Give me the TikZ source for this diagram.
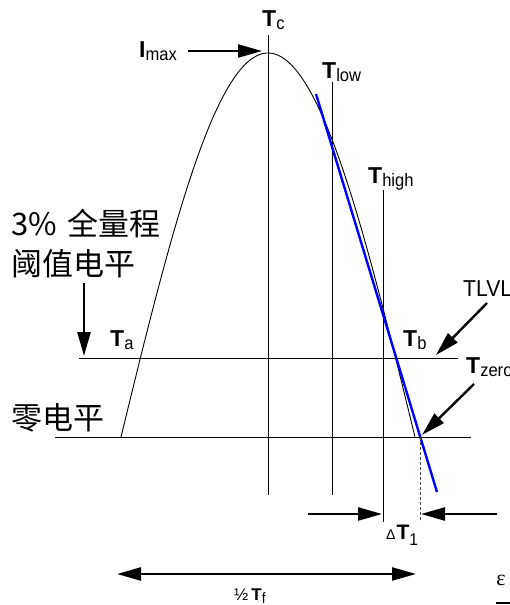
\documentclass[tikz,border=0pt]{standalone}
\usepackage{fontspec}
\setmainfont{Liberation Sans}
\newfontfamily\cjk{Noto Sans CJK SC}
\newfontfamily\narrowsans[FakeStretch=0.92]{Liberation Sans}
\newfontfamily\serifgr{Liberation Serif}
\usetikzlibrary{arrows.meta}
% big label: bold T + condensed subscript
\newcommand{\TT}[2]{{\fontsize{23}{23}\selectfont\bfseries #1}{\narrowsans\fontsize{18}{18}\selectfont\raisebox{-3pt}{#2}}}
% small label
\newcommand{\ST}[2]{{\fontsize{17}{17}\selectfont\bfseries #1}{\narrowsans\fontsize{15}{15}\selectfont\raisebox{-3pt}{#2}}}
\begin{document}
\begin{tikzpicture}[x=1pt,y=-1pt,
  thinline/.style={line width=0.9pt,black},
  bigarrow/.style={line width=2.4pt,-{Triangle[length=24pt,width=13pt]}},
  lab/.style={inner sep=0pt,anchor=base west},
  cjklab/.style={inner sep=0pt,anchor=west,font=\cjk\fontsize{31}{31}\selectfont}]
\useasboundingbox (0,0) rectangle (510,605);
% vertical lines
\coordinate (tcTop) at (268,35);  \coordinate (tcBot) at (268,495);
\coordinate (tlTop) at (332,82);  \coordinate (tlBot) at (332,495);
\coordinate (thTop) at (383,190); \coordinate (thBot) at (383,522);
\draw[thinline] (tcTop) -- (tcBot);
\draw[thinline] (tlTop) -- (tlBot);
\draw[thinline] (thTop) -- (thBot);
% horizontal levels
\coordinate (thrL) at (79,358);  \coordinate (thrR) at (458,358);
\coordinate (zerL) at (55,437);  \coordinate (zerR) at (471,437);
\draw[thinline] (thrL) -- (thrR);
\draw[thinline] (zerL) -- (zerR);
% pulse curve
\draw[thinline] plot[domain=-1:1,samples=120,smooth] ({268+147*\x},{437-384*cos(90*\x)});
% blue tangent
\coordinate (bl1) at (316,94); \coordinate (bl2) at (437,492);
\draw[blue,line width=2.4pt] (bl1) -- (bl2);
% dashed
\coordinate (dz) at (420.3,437); \coordinate (dzB) at (420.3,522);
\draw[line width=0.8pt,black!70,dash pattern=on 3pt off 2pt] (dz) -- (dzB);
% labels
\node[lab] (tc) at (262,26) {\TT{T}{c}};
\node[lab] (imax) at (139,57) {\TT{I}{max}};
\node[lab] (tlow) at (322,78) {\TT{T}{low}};
\node[lab] (thigh) at (368,183) {\TT{T}{high}};
\node[lab] (ta) at (110,346) {\TT{T}{a}};
\node[lab] (tb) at (403,346) {\TT{T}{b}};
\node[lab,font=\narrowsans\fontsize{23}{23}\selectfont] (tlvl) at (463,296) {TLVL};
\node[lab] (tzero) at (466,373) {\TT{T}{zero}};
\node[lab] (dt) at (386,539) {{\fontsize{14}{14}\selectfont Δ\hspace{1pt}}{\fontsize{21}{21}\selectfont\bfseries T}{\narrowsans\fontsize{17}{17}\selectfont\raisebox{-6pt}{1}}};
\node[lab] (tf) at (234,600) {{\fontsize{17}{17}\selectfont ½\hspace{3pt}}\ST{T}{f}};
\node[inner sep=0pt,font=\serifgr\fontsize{22}{22}\selectfont] (eps) at (501,580) {ε};
\draw[line width=2pt] (496,603) -- (510,603);
% CJK labels
\node[cjklab] (l1) at (11,224) {3\%\hspace{11pt}全量程};
\node[cjklab] (l2) at (11,264) {阈值电平};
\node[cjklab] (l3) at (11,418) {零电平};
% arrows
\coordinate (imaxA) at (188,51); \coordinate (imaxB) at (262,51);
\draw[bigarrow] (imaxA) -- (imaxB);
\coordinate (thrA) at (84,283); \coordinate (thrB) at (84,356);
\draw[bigarrow] (thrA) -- (thrB);
\coordinate (tlvA) at (487,303); \coordinate (tlvB) at (436,355);
\draw[bigarrow] (tlvA) -- (tlvB);
\coordinate (tzA) at (474,384); \coordinate (tzB) at (422,435);
\draw[bigarrow] (tzA) -- (tzB);
\coordinate (d1A) at (308,514); \coordinate (d1B) at (382,514);
\draw[bigarrow] (d1A) -- (d1B);
\coordinate (d2A) at (497,514); \coordinate (d2B) at (421,514);
\draw[bigarrow] (d2A) -- (d2B);
\coordinate (hfA) at (117,574); \coordinate (hfB) at (416,574);
\draw[line width=2.4pt,{Triangle[length=24pt,width=13pt]}-{Triangle[length=24pt,width=13pt]}] (hfA) -- (hfB);
\end{tikzpicture}
\end{document}
